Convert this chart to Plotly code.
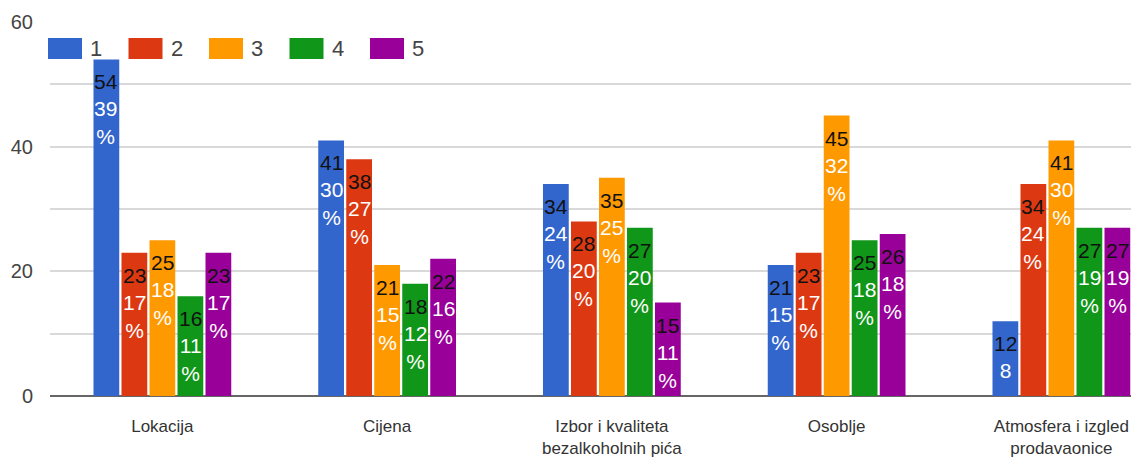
import plotly.graph_objects as go

categories = ["Lokacija", "Cijena", "Izbor i kvaliteta<br>bezalkoholnih pića", "Osoblje", "Atmosfera i izgled<br>prodavaonice"]
series_names = ["1", "2", "3", "4", "5"]
colors = ["#3366CC", "#DC3912", "#FF9900", "#109618", "#990099"]

s1 = [54, 41, 34, 21, 12]
s2 = [23, 38, 28, 23, 34]
s3 = [25, 21, 35, 45, 41]
s4 = [16, 18, 27, 25, 27]
s5 = [23, 22, 15, 26, 27]

p1 = ["39%", "30%", "24%", "15%", "8"]
p2 = ["17%", "27%", "20%", "17%", "24%"]
p3 = ["18%", "15%", "25%", "32%", "30%"]
p4 = ["11%", "12%", "20%", "18%", "19%"]
p5 = ["17%", "16%", "11%", "18%", "19%"]

y_ticks = [0, 20, 40, 60]

values = [s1, s2, s3, s4, s5]
pcts = [p1, p2, p3, p4, p5]

FONT = "Liberation Sans, Arial, sans-serif"
BARGAP = 0.377
BARGROUPGAP = 0.08

# the page body adds an 8px offset; the figure fills the rest of the window
PAGE_OFF = 8
FIG_W, FIG_H = 1139 - PAGE_OFF, 467 - PAGE_OFF
plot_left_ref, plot_top_ref = 50, 22          # plot area corner in window pixels
plot_w, plot_h = 1089, 374
slot_px = 224.75


def label(v, p):
    head = f"<span style='color:#111111'>{v}</span>"
    if p.endswith("%"):
        return f"{head}<br>{p[:-1]}<br>%"
    return f"{head}<br>{p}"


fig = go.Figure()
n = len(series_names)
for i, (name, col, vals, pc) in enumerate(zip(series_names, colors, values, pcts)):
    fig.add_trace(go.Bar(
        x=categories, y=vals, name=name,
        marker=dict(color=col, line=dict(width=0)),
        showlegend=False, hoverinfo="skip",
    ))
    offset = -(1 - BARGAP) / 2 + (i + 0.5) * (1 - BARGAP) / n
    for j, (v, p) in enumerate(zip(vals, pc)):
        fig.add_annotation(
            x=j + offset, y=v, xref="x", yref="y",
            text=label(v, p), showarrow=False,
            xanchor="center", yanchor="top", yshift=-9,
            font=dict(family=FONT, size=21, color="white"),
        )

# custom legend (large swatches as in the original)
for i, (name, col) in enumerate(zip(series_names, colors)):
    x0 = 48 + 80.5 * i
    fig.add_shape(type="rect", xref="paper", yref="paper",
                  x0=(x0 - plot_left_ref) / plot_w, x1=(x0 + 34 - plot_left_ref) / plot_w,
                  y0=1 - (59 - plot_top_ref) / plot_h, y1=1 - (38 - plot_top_ref) / plot_h,
                  fillcolor=col, line=dict(width=0), layer="above")
    fig.add_annotation(xref="paper", yref="paper",
                       x=(x0 + 40 - plot_left_ref) / plot_w, y=1 - (48.5 - plot_top_ref) / plot_h,
                       text=name, showarrow=False, xanchor="left", yanchor="middle",
                       font=dict(family=FONT, size=22, color="#444444"))

ml = plot_left_ref - PAGE_OFF
mt = plot_top_ref - PAGE_OFF
fig.update_layout(
    width=FIG_W, height=FIG_H,
    margin=dict(l=ml, r=FIG_W - ml - plot_w, t=mt, b=FIG_H - mt - plot_h, pad=0),
    plot_bgcolor="white", paper_bgcolor="white",
    barmode="group", bargap=BARGAP, bargroupgap=BARGROUPGAP,
    font=dict(family=FONT, color="#333333"),
)
fig.update_xaxes(
    range=[-0.5, -0.5 + plot_w / slot_px],
    showgrid=False, showline=False, ticks="",
    tickfont=dict(family=FONT, size=17, color="#333333"),
    ticklabelstandoff=18, automargin=False,
)
fig.update_yaxes(
    range=[0, 60], tickvals=y_ticks, ticktext=[str(t) for t in y_ticks],
    showgrid=True, gridcolor="#D9D9D9", gridwidth=1.5,
    minor=dict(tickvals=[10, 30, 50], showgrid=True, gridcolor="#D9D9D9", gridwidth=1.5),
    zeroline=True, zerolinecolor="#666666", zerolinewidth=2,
    showline=False, ticks="",
    tickfont=dict(family=FONT, size=20, color="#444444"),
    ticklabelstandoff=16, automargin=False,
)

fig.write_html("out.html")
